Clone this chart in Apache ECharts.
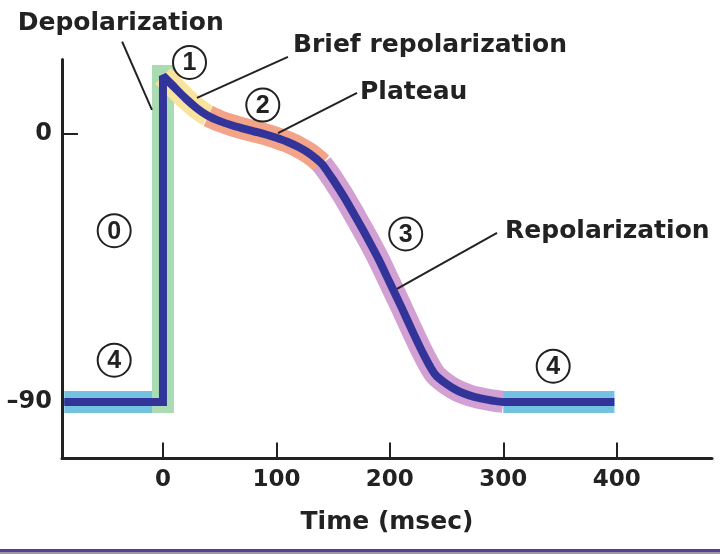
<!DOCTYPE html>
<html><head><meta charset="utf-8">
<script src="https://cdn.jsdelivr.net/npm/echarts@6/dist/echarts.min.js"></script>
<style>html,body{margin:0;padding:0;background:#fff}#c{width:720px;height:554px}</style>
</head><body><div id="c"></div>
<script>
// Action potential phases: [time (msec), membrane potential (mV)]
const phase4Rest = [[-87,-90],[0,-90]];
const phase0 = [[0,-90],[0,19.5]];
const phase1 = [[0,19.5],[10,15.7],[20,11.9],[30,8.6],[40,6.0]];
const phase2 = [[40,6.0],[50,4.3],[60,3.0],[70,1.9],[80,0.9],[90,-0.1],[100,-1.3],[110,-2.7],[120,-4.5],[130,-6.8],[140,-10.0]];
const phase3 = [[140,-10.0],[145,-12.6],[150,-15.4],[160,-21.4],[170,-28.0],[180,-34.8],[190,-42.0],[200,-50.0],[210,-58.0],[220,-66.3],[230,-74.2],[240,-80.8],[250,-84.0],[260,-86.3],[270,-87.8],[280,-88.8],[290,-89.5],[300,-90]];
const phase4Next = [[300,-90],[398,-90]];

const xTicks = [0,100,200,300,400];
const yTicks = [0,-90];
const axisName = 'Time (msec)';

// circled phase numbers: [label, time, mV]
const phaseMarks = [['0',-43,-32.5],['1',23.4,24],['2',88,9.7],['3',214,-33.6],['4',-43,-76],['4',344,-78]];
// callouts: text, text anchor, leader line from / to (data coords)
const calloutText = ['Depolarization','Brief repolarization','Plateau','Repolarization'];
const calloutAt = [[-128,37],[114.6,29.7],[173.7,13.8],[301.6,-32.6]];
const calloutFrom = [[-36,31],[110.2,25.9],[171.1,13.8],[294.5,-33.2]];
const calloutTo = [[-9.7,8.1],[30,12.1],[101.4,0.3],[206.3,-52]];

const halo = [
  [phase4Rest,'#74c2e2'],
  [phase0,'#a9dcb2','square'],
  [phase1,'#f8e49e',null,0.3],
  [phase2,'#f3a387',null,0.3],
  [phase3,'#d2a0d2',null,0.3],
  [phase4Next,'#74c2e2']
];
const cornerPart = [].concat(phase4Rest, phase0.slice(1), [phase1[1]]);
const curvePart = [].concat(phase1, phase2.slice(1), phase3.slice(1), phase4Next.slice(1));

const base = {type:'line', showSymbol:false, symbol:'none', silent:true, clip:false, animation:false};
const series = halo.map(function(h){
  return Object.assign({}, base, {data:h[0], smooth:h[3]||false,
    lineStyle:{color:h[1], width:22, cap:h[2]||'butt', join:'round'}});
});
series.push(Object.assign({}, base, {data:cornerPart,
  lineStyle:{color:'#33349a', width:8, cap:'butt', join:'miter', miterLimit:2}}));
series.push(Object.assign({}, base, {data:curvePart, smooth:0.3,
  lineStyle:{color:'#33349a', width:8, cap:'butt', join:'round'}}));

const FONT = '"DejaVu Sans", sans-serif';
const chart = echarts.init(document.getElementById('c'));
chart.setOption({
  animation:false,
  backgroundColor:'#fff',
  grid:{left:62, right:8, top:59.5, bottom:95.5},
  xAxis:{type:'value', min:-89, max:484,
    name:axisName, nameLocation:'middle', nameGap:51,
    nameTextStyle:{fontFamily:FONT, fontWeight:'bold', fontSize:25, color:'#222'},
    axisLine:{onZero:false, lineStyle:{color:'#222', width:3}},
    axisTick:{inside:true, length:16, lineStyle:{color:'#222', width:2}, customValues:xTicks},
    axisLabel:{customValues:xTicks, margin:10, fontFamily:FONT, fontWeight:'bold', fontSize:23, color:'#222'},
    splitLine:{show:false}},
  yAxis:{type:'value', min:-109, max:25,
    axisLine:{show:true, onZero:false, lineStyle:{color:'#222', width:3}},
    axisTick:{show:true, inside:true, length:16, lineStyle:{color:'#222', width:2}, customValues:yTicks},
    axisLabel:{customValues:yTicks, margin:10, fontFamily:FONT, fontWeight:'bold', fontSize:24, color:'#222',
      formatter:function(v){return String(v).replace('-','\u2013');}},
    splitLine:{show:false}},
  series:series
});

function px(p){return chart.convertToPixel({gridIndex:0}, p);}
const g = [];
phaseMarks.forEach(function(m){
  const p = px([m[1], m[2]]);
  g.push({type:'circle', shape:{cx:p[0], cy:p[1], r:16.5}, style:{fill:'#fff', stroke:'#222', lineWidth:2}, z:10});
  g.push({type:'text', x:p[0], y:p[1]+1, z:11, style:{text:m[0], font:'bold 25px "Liberation Sans", Arial, sans-serif', fill:'#222',
    align:'center', verticalAlign:'middle', textAlign:'center', textVerticalAlign:'middle'}});
});
calloutText.forEach(function(t,i){
  const a = px(calloutFrom[i]), b = px(calloutTo[i]), c = px(calloutAt[i]);
  g.push({type:'line', shape:{x1:a[0], y1:a[1], x2:b[0], y2:b[1]}, style:{stroke:'#222', lineWidth:2}, z:10});
  g.push({type:'text', x:c[0], y:c[1], z:11, style:{text:t, font:'bold 25px ' + FONT, fill:'#222',
    align:'left', verticalAlign:'middle', textAlign:'left', textVerticalAlign:'middle'}});
});
g.push({type:'rect', shape:{x:0, y:549, width:720, height:3}, style:{fill:'#5a3c96'}, z:10});
g.push({type:'rect', shape:{x:0, y:552, width:720, height:2}, style:{fill:'#9a9a9a'}, z:10});
chart.setOption({graphic:g});
</script></body></html>
